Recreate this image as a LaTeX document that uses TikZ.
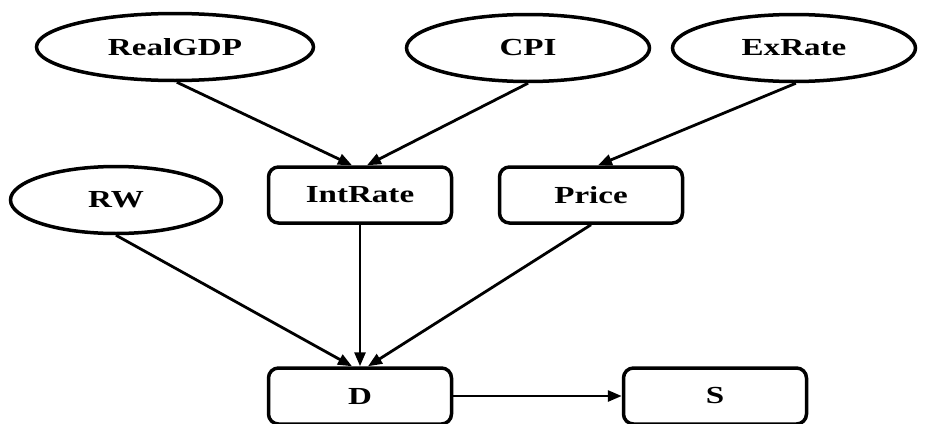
\documentclass[tikz,border=0pt]{standalone}
\usepackage{fontspec}
\setmainfont{Liberation Serif}
\usetikzlibrary{shapes.geometric,arrows.meta}
\newcommand{\wlab}[1]{\scalebox{1.35}[1]{\bfseries #1}}
\tikzset{
  var/.style={ellipse,draw,line width=3.5pt,minimum width=277pt,minimum height=67pt,inner sep=0pt,font=\fontsize{24.5}{28}\selectfont},
  box/.style={rectangle,draw,line width=3.5pt,rounded corners=10pt,minimum width=183pt,minimum height=56pt,inner sep=0pt,font=\fontsize{24.5}{28}\selectfont},
  link/.style={line width=2.8pt,-{Triangle[length=14pt,width=11pt]}}
}
\begin{document}
\begin{tikzpicture}[x=1pt,y=-1pt]
\useasboundingbox (0,0) rectangle (925,423);
\clip (0,0) rectangle (925,423);
\node[var] (gdp) at (175,47) {\wlab{RealGDP}};
\node[var,minimum width=243pt] (cpi) at (528,48) {\wlab{CPI}};
\node[var,minimum width=243pt] (ex) at (794,48) {\wlab{ExRate}};
\node[var,minimum width=211pt] (rw) at (116,200) {\wlab{RW}};
\node[box] (int) at (360,195) {\wlab{IntRate}};
\node[box] (price) at (591,195) {\wlab{Price}};
\node[box] (d) at (360,396) {\wlab{D}};
\node[box] (s) at (715,396) {\wlab{S}};
\draw[link] (gdp.-87) -- ([xshift=-8pt]int.north);
\draw[link] (cpi.south) -- ([xshift=7pt]int.north);
\draw[link] (ex.-87) -- ([xshift=7pt]price.north);
\draw[link] (rw.south) -- ([xshift=-8pt]d.north);
\draw[link] (int.south) -- (d.north);
\draw[link] (price.south) -- ([xshift=8pt]d.north);
\draw[link] (d.east) -- (s.west);
\end{tikzpicture}
\end{document}
